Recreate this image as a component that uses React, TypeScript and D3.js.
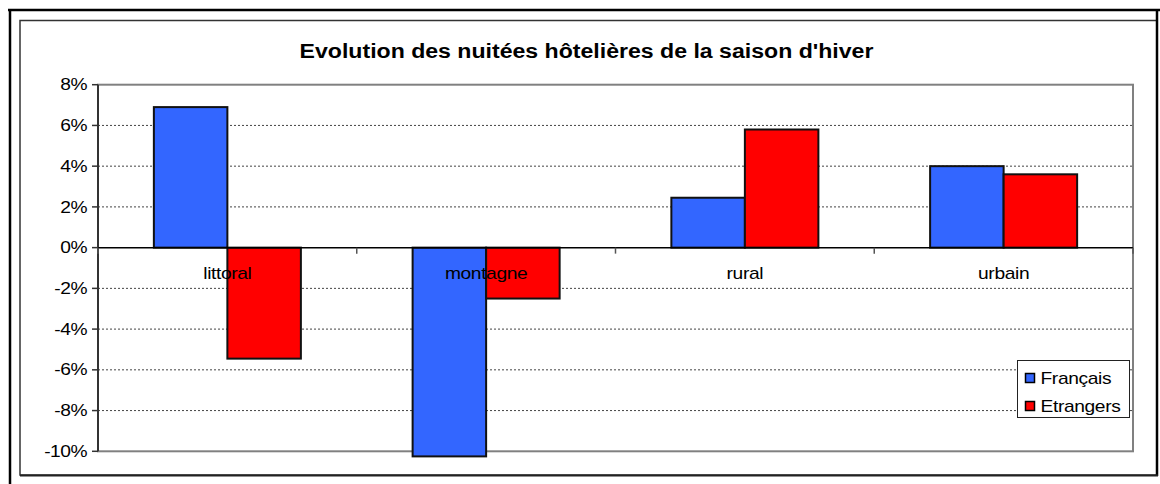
import * as d3 from 'd3';
import { useEffect, useRef } from 'react';

const width = 1160;
const height = 484;

const categories = ['littoral', 'montagne', 'rural', 'urbain'];
const seriesNames = ['Français', 'Etrangers'];
const francais = [6.9, -10.25, 2.45, 4.0];
const etrangers = [-5.45, -2.5, 5.8, 3.6];
const yTicks = [8, 6, 4, 2, 0, -2, -4, -6, -8, -10];
const colors = ['#3366FF', '#FF0000'];

const title = "Evolution des nuitées hôtelières de la saison d'hiver";

export default function App() {
  const svgRef = useRef<SVGSVGElement>(null);

  const plot = { left: 98, right: 1133, top: 84.7, bottom: 451.3 };
  const font = '"Liberation Sans", Arial, sans-serif';
  const stretch = 1.2;

  useEffect(() => {
    const svg = d3.select(svgRef.current);
    svg.selectAll('*').remove();

    const y = d3.scaleLinear().domain([-10, 8]).range([plot.bottom, plot.top]);
    const x0 = d3
      .scaleBand<string>()
      .domain(categories)
      .range([plot.left, plot.right])
      .paddingInner(0)
      .paddingOuter(0);
    const x1 = d3
      .scaleBand<string>()
      .domain(seriesNames)
      .range([0, x0.bandwidth()])
      .paddingInner(0)
      .paddingOuter(0.76);

    // chart area border
    svg
      .append('rect')
      .attr('x', 20)
      .attr('y', 20.5)
      .attr('width', 1157 - 20)
      .attr('height', 475 - 20.5)
      .attr('fill', '#fff')
      .attr('stroke', '#333')
      .attr('stroke-width', 1.5);

    // outer frame (heavy top + left lines, dark right + bottom)
    const frame = svg.append('g').attr('stroke', '#000').attr('fill', 'none');
    frame.append('line').attr('x1', 8).attr('x2', width).attr('y1', 10).attr('y2', 10).attr('stroke-width', 2.5);
    frame.append('line').attr('x1', 10).attr('x2', 10).attr('y1', 9).attr('y2', height).attr('stroke-width', 2.5);
    frame.append('line').attr('x1', 1157).attr('x2', 1157).attr('y1', 10).attr('y2', 476).attr('stroke-width', 2.5);
    frame.append('line').attr('x1', 20).attr('x2', 1158).attr('y1', 475.5).attr('y2', 475.5).attr('stroke-width', 2).attr('stroke', '#222');

    // title
    svg
      .append('text')
      .attr('transform', `translate(586.5,58) scale(1.1,1)`)
      .attr('text-anchor', 'middle')
      .attr('font-family', font)
      .attr('font-weight', 'bold')
      .attr('font-size', 21)
      .attr('fill', '#000')
      .text(title);

    // gridlines
    const grid = svg.append('g');
    grid
      .selectAll('line')
      .data(yTicks.filter((t) => t !== 0 && t !== 8 && t !== -10))
      .join('line')
      .attr('x1', plot.left)
      .attr('x2', plot.right)
      .attr('y1', (d) => y(d))
      .attr('y2', (d) => y(d))
      .attr('stroke', '#444')
      .attr('stroke-width', 1)
      .attr('stroke-dasharray', '2 2');

    // plot area frame
    svg
      .append('rect')
      .attr('x', plot.left)
      .attr('y', plot.top)
      .attr('width', plot.right - plot.left)
      .attr('height', plot.bottom - plot.top)
      .attr('fill', 'none')
      .attr('stroke', '#808080')
      .attr('stroke-width', 2);

    // y axis
    const yAxis = svg.append('g');
    yAxis
      .append('line')
      .attr('x1', plot.left)
      .attr('x2', plot.left)
      .attr('y1', plot.top)
      .attr('y2', plot.bottom)
      .attr('stroke', '#333')
      .attr('stroke-width', 2);
    yAxis
      .selectAll('line.tick')
      .data(yTicks)
      .join('line')
      .attr('class', 'tick')
      .attr('x1', plot.left - 6)
      .attr('x2', plot.left)
      .attr('y1', (d) => y(d))
      .attr('y2', (d) => y(d))
      .attr('stroke', '#333')
      .attr('stroke-width', 1.5);
    yAxis
      .selectAll('text')
      .data(yTicks)
      .join('text')
      .attr('transform', (d) => `translate(87,${y(d)}) scale(${stretch},1)`)
      .attr('dy', '0.35em')
      .attr('text-anchor', 'end')
      .attr('font-family', font)
      .attr('font-size', 16)
      .attr('letter-spacing', -0.4)
      .attr('fill', '#000')
      .text((d) => `${d}%`);

    // bars
    const data = categories.map((c, i) => ({
      category: c,
      values: [
        { name: seriesNames[0], value: francais[i] },
        { name: seriesNames[1], value: etrangers[i] },
      ],
    }));

    const groups = svg
      .append('g')
      .selectAll('g')
      .data(data)
      .join('g')
      .attr('transform', (d) => `translate(${x0(d.category)},0)`);

    groups
      .selectAll('rect')
      .data((d) => d.values)
      .join('rect')
      .attr('x', (d) => x1(d.name))
      .attr('width', x1.bandwidth())
      .attr('y', (d) => y(Math.max(0, d.value)))
      .attr('height', (d) => Math.abs(y(d.value) - y(0)))
      .attr('fill', (d, i) => colors[i])
      .attr('stroke', '#111')
      .attr('stroke-width', 2);

    // zero line + category ticks
    svg
      .append('line')
      .attr('x1', plot.left)
      .attr('x2', plot.right)
      .attr('y1', y(0))
      .attr('y2', y(0))
      .attr('stroke', '#000')
      .attr('stroke-width', 1.5);

    const boundaries = categories.map((c) => x0(c)).concat([plot.right]);
    svg
      .append('g')
      .selectAll('line')
      .data(boundaries)
      .join('line')
      .attr('x1', (d) => d)
      .attr('x2', (d) => d)
      .attr('y1', y(0))
      .attr('y2', y(0) + 6)
      .attr('stroke', '#555')
      .attr('stroke-width', 1.5);

    // category labels
    svg
      .append('g')
      .selectAll('text')
      .data(categories)
      .join('text')
      .attr('transform', (d) => `translate(${x0(d) + x0.bandwidth() / 2},279) scale(${stretch},1)`)
      .attr('text-anchor', 'middle')
      .attr('font-family', font)
      .attr('font-size', 16)
      .attr('letter-spacing', -0.3)
      .attr('fill', '#000')
      .text((d) => d);

    // legend
    const legend = svg.append('g').attr('transform', 'translate(1017.5,360.5)');
    legend
      .append('rect')
      .attr('width', 112)
      .attr('height', 57)
      .attr('fill', '#fff')
      .attr('stroke', '#222')
      .attr('stroke-width', 1);
    const items = legend
      .selectAll('g')
      .data(seriesNames)
      .join('g')
      .attr('transform', (d, i) => `translate(0,${17.5 + i * 28})`);
    items
      .append('rect')
      .attr('x', 8)
      .attr('y', -4.5)
      .attr('width', 9)
      .attr('height', 9)
      .attr('fill', (d, i) => colors[i])
      .attr('stroke', '#000')
      .attr('stroke-width', 1.5);
    items
      .append('text')
      .attr('transform', `translate(23,0) scale(${stretch},1)`)
      .attr('dy', '0.35em')
      .attr('font-family', font)
      .attr('font-size', 16)
      .attr('letter-spacing', -0.3)
      .attr('fill', '#000')
      .text((d) => d);
  }, []);

  return (
    <svg
      ref={svgRef}
      width={width}
      height={height}
      style={{ position: 'absolute', left: 0, top: 0, background: '#fff' }}
    />
  );
}
